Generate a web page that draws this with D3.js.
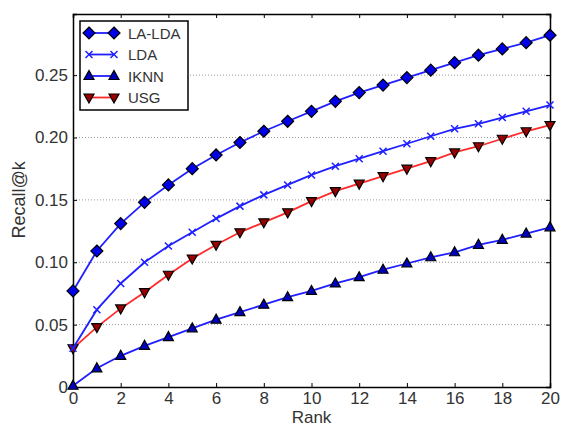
<!DOCTYPE html>
<html>
<head>
<meta charset="utf-8">
<script src="https://cdn.jsdelivr.net/npm/d3@7"></script>
<style>
  body { margin: 0; background: #fff; }
  text { font-family: "Liberation Sans", Arial, sans-serif; }
</style>
</head>
<body>
<div id="container"></div>
<script>
// ranks on the x axis
var ranks = d3.range(0, 21);
// recall values per method
var laLda = [0.077, 0.109, 0.131, 0.148, 0.162, 0.175, 0.186, 0.196, 0.205, 0.213, 0.221,
    0.229, 0.236, 0.242, 0.248, 0.254, 0.260, 0.266, 0.271, 0.276, 0.282];
var lda = [0.031, 0.062, 0.083, 0.100, 0.113, 0.124, 0.135, 0.145, 0.154, 0.162, 0.170,
    0.177, 0.183, 0.189, 0.195, 0.201, 0.207, 0.211, 0.216, 0.221, 0.226];
var iknn = [0.001, 0.015, 0.025, 0.033, 0.040, 0.047, 0.054, 0.060, 0.066, 0.072, 0.077,
    0.083, 0.088, 0.094, 0.099, 0.104, 0.108, 0.114, 0.118, 0.123, 0.128];
var usg = [0.031, 0.048, 0.063, 0.076, 0.090, 0.103, 0.114, 0.124, 0.132, 0.140, 0.149,
    0.157, 0.163, 0.169, 0.175, 0.181, 0.188, 0.193, 0.199, 0.205, 0.210];
var seriesNames = ["LA-LDA", "LDA", "IKNN", "USG"];
var xTicks = [0, 2, 4, 6, 8, 10, 12, 14, 16, 18, 20];
var yTicks = [0, 0.05, 0.10, 0.15, 0.20, 0.25];
var yTickLabels = ["0", "0.05", "0.10", "0.15", "0.20", "0.25"];

var width = 563;
var height = 426;
var margin = {left: 73, right: 13, top: 14, bottom: 39};

var svg = d3.select("#container")
    .append("svg")
    .attr("width", width)
    .attr("height", height);

var x = d3.scaleLinear().domain([0, 20]).range([margin.left, width - margin.right]);
var y = d3.scaleLinear().domain([0, 0.299]).range([height - margin.bottom, margin.top]);

// horizontal dotted grid
svg.append("g")
    .selectAll("line")
    .data(yTicks.slice(1))
    .enter()
    .append("line")
    .attr("x1", x(0)).attr("x2", x(20))
    .attr("y1", d => y(d)).attr("y2", d => y(d))
    .attr("stroke", "#999")
    .attr("stroke-width", 1)
    .attr("stroke-dasharray", "1,2");

// axes, ticks pointing inward
var xAxis = svg.append("g")
    .attr("transform", "translate(0," + y(0) + ")")
    .call(d3.axisBottom(x).tickValues(xTicks).tickSize(-4).tickPadding(5));
var xAxisTop = svg.append("g")
    .attr("transform", "translate(0," + margin.top + ")")
    .call(d3.axisTop(x).tickValues(xTicks).tickSize(-4).tickFormat(""));
var yAxis = svg.append("g")
    .attr("transform", "translate(" + x(0) + ",0)")
    .call(d3.axisLeft(y).tickValues(yTicks).tickSize(-4).tickPadding(5)
        .tickFormat((d, i) => yTickLabels[i]));
var yAxisRight = svg.append("g")
    .attr("transform", "translate(" + x(20) + ",0)")
    .call(d3.axisRight(y).tickValues(yTicks).tickSize(-4).tickFormat(""));

[xAxis, xAxisTop, yAxis, yAxisRight].forEach(a => {
    a.select(".domain").attr("stroke", "#000").attr("stroke-width", 1.5);
    a.selectAll(".tick line").attr("stroke", "#000").attr("stroke-width", 1);
    a.selectAll("text").attr("font-size", 17).attr("fill", "#333")
        .attr("font-family", "Liberation Sans, Arial, sans-serif");
});

// axis labels
svg.append("text")
    .attr("x", x(10)).attr("y", 423)
    .attr("text-anchor", "middle")
    .attr("font-size", 17).attr("fill", "#333")
    .text("Rank");
svg.append("text")
    .attr("transform", "translate(25," + y(0.15) + ") rotate(-90)")
    .attr("text-anchor", "middle")
    .attr("font-size", 18).attr("fill", "#333")
    .text("Recall@k");

var series = [
    {name: seriesNames[0], values: laLda, line: "#1f1fff", marker: "diamond", fill: "#0000e8"},
    {name: seriesNames[1], values: lda, line: "#1f1fff", marker: "x", fill: "#1f1fff"},
    {name: seriesNames[2], values: iknn, line: "#1f1fff", marker: "up", fill: "#0000c0"},
    {name: seriesNames[3], values: usg, line: "#ff2b2b", marker: "down", fill: "#990000"}
];

function drawMarker(g, type, cx, cy, fill) {
    if (type == "diamond") {
        g.append("path")
            .attr("d", `M${cx},${cy - 6}L${cx + 6},${cy}L${cx},${cy + 6}L${cx - 6},${cy}Z`)
            .attr("fill", fill).attr("stroke", "#000").attr("stroke-width", 1.2);
    } else if (type == "x") {
        g.append("path")
            .attr("d", `M${cx - 3.5},${cy - 3.5}L${cx + 3.5},${cy + 3.5}M${cx - 3.5},${cy + 3.5}L${cx + 3.5},${cy - 3.5}`)
            .attr("stroke", fill).attr("stroke-width", 1.5).attr("fill", "none");
    } else if (type == "up") {
        g.append("path")
            .attr("d", `M${cx},${cy - 5.5}L${cx + 5},${cy + 3.5}L${cx - 5},${cy + 3.5}Z`)
            .attr("fill", fill).attr("stroke", "#000").attr("stroke-width", 1.2);
    } else {
        g.append("path")
            .attr("d", `M${cx},${cy + 5.5}L${cx + 5},${cy - 3.5}L${cx - 5},${cy - 3.5}Z`)
            .attr("fill", fill).attr("stroke", "#000").attr("stroke-width", 1.2);
    }
}

var line = d3.line()
    .x((d, i) => x(ranks[i]))
    .y(d => y(d));

// draw in reverse order so LA-LDA sits on top
series.slice().reverse().forEach(s => {
    var g = svg.append("g");
    g.append("path")
        .datum(s.values)
        .attr("d", line)
        .attr("fill", "none")
        .attr("stroke", s.line)
        .attr("stroke-width", 1.8);
    s.values.forEach((v, i) => drawMarker(g, s.marker, x(ranks[i]), y(v), s.fill));
});

// legend
var legend = svg.append("g");
legend.append("rect")
    .attr("x", 80).attr("y", 21)
    .attr("width", 108).attr("height", 89)
    .attr("fill", "#fff").attr("stroke", "#000").attr("stroke-width", 1.5);
series.forEach((s, i) => {
    var ly = 33 + i * 21.5;
    legend.append("line")
        .attr("x1", 89).attr("x2", 114)
        .attr("y1", ly).attr("y2", ly)
        .attr("stroke", s.line).attr("stroke-width", 1.8);
    drawMarker(legend, s.marker, 89, ly, s.fill);
    drawMarker(legend, s.marker, 114, ly, s.fill);
    legend.append("text")
        .attr("x", 128).attr("y", ly + 5.5)
        .attr("font-size", 15).attr("fill", "#333")
        .text(s.name);
});
</script>
</body>
</html>
